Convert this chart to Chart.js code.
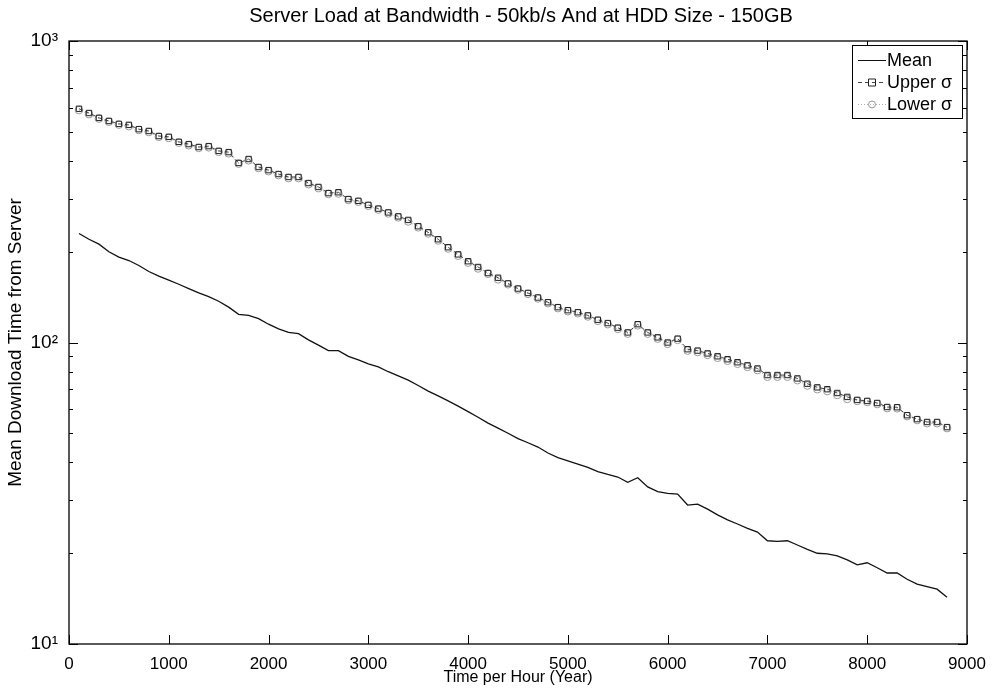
<!DOCTYPE html>
<html>
<head>
<meta charset="utf-8">
<script src="https://cdn.jsdelivr.net/npm/chart.js@4.4.0/dist/chart.umd.min.js"></script>
<style>
  html, body { margin: 0; padding: 0; background: #fff; }
  #wrap { width: 994px; height: 688px; }
</style>
</head>
<body>
<div id="wrap"><canvas id="c" width="994" height="688"></canvas></div>
<script>
// hours (x), one sample every 100
const hours = [100,200,300,400,500,600,700,800,900,1000,1100,1200,1300,1400,1500,1600,1700,1800,1900,2000,
  2100,2200,2300,2400,2500,2600,2700,2800,2900,3000,3100,3200,3300,3400,3500,3600,3700,3800,3900,4000,
  4100,4200,4300,4400,4500,4600,4700,4800,4900,5000,5100,5200,5300,5400,5500,5600,5700,5800,5900,6000,
  6100,6200,6300,6400,6500,6600,6700,6800,6900,7000,7100,7200,7300,7400,7500,7600,7700,7800,7900,8000,
  8100,8200,8300,8400,8500,8600,8700,8800];

const meanTime = [230,220,212,200,192,187,180,172,166,161,156,151,146,142,137,131,124,123,120,115,
  111,108,107,102,98,94,94,90,87.5,85,83,80,77.5,75,72,69,66.5,64,61.5,59,
  56.5,54,52,50,48,46.5,45,43,41.5,40.5,39.5,38.5,37.3,36.5,35.8,34.4,35.6,33.2,32,31.6,
  31.4,28.9,29.1,28,26.8,25.8,25,24.2,23.5,22,21.9,22,21.3,20.6,20,19.9,19.6,19,18.3,18.6,
  17.9,17.2,17.2,16.4,15.8,15.5,15.2,14.3];

const upperSigma = [596,577,556,543,531,527,510,503,484,481,463,455,445,448,432,428,394,406,382,373,
  362,354,354,338,328,313,315,299,295,286,278,270,262,255,243,232,220,207,196,186,
  178,170,164,157,151,146,141,136,131,128,126,123,119,116,112,108,115,108,104,100,
  103,95,94,92,90,88,86,84,82,78,78,78,76,73,71,70,68,66,64.5,64,
  63,61.1,61,57.4,55.7,54.5,54.5,52.4];

const lowerSigma = [590,572,553,540,528,522,507,499,481,477,460,451,442,444,429,424,392,402,379,370,
  359,351,351,335,325,311,312,297,293,284,276,268,260,252,241,230,218,205,194,184,
  176,169,162,156,150,145,140,135,130,127,125,122,118,115,111,107,114,107,103,99,
  102,94,93,91,89,87,85,83,81,77,77,77,75,72,70,69,67,65,64,63.5,
  62.5,60.6,60.5,57,55.3,54,54,52];

const seriesNames = ["Mean", "Upper \u03c3", "Lower \u03c3"];
const xTicks = [0,1000,2000,3000,4000,5000,6000,7000,8000,9000];
const yDecades = { 10: "10\u00b9", 100: "10\u00b2", 1000: "10\u00b3" };

const FONT = "'Liberation Sans', Arial, sans-serif";

const toPoints = (ys) => hours.map((h, i) => ({ x: h, y: ys[i] }));

// box, inward ticks, title and legend drawn like the MATLAB figure
const matlabFrame = {
  id: "matlabFrame",
  afterDatasetsDraw(chart) {
    const { ctx, chartArea: a, scales } = chart;
    const xs = scales.x, ys = scales.y;
    ctx.save();
    ctx.strokeStyle = "#000";
    ctx.lineWidth = 1.3;
    ctx.strokeRect(a.left, a.top, a.right - a.left, a.bottom - a.top);

    ctx.lineWidth = 1;
    ctx.beginPath();
    xTicks.forEach((v) => {
      const px = Math.round(xs.getPixelForValue(v)) + 0.5;
      ctx.moveTo(px, a.bottom); ctx.lineTo(px, a.bottom - 9);
      ctx.moveTo(px, a.top); ctx.lineTo(px, a.top + 9);
    });
    [10, 100, 1000].forEach((d) => {
      for (let m = 1; m <= 9; m++) {
        const v = d * m;
        if (v > 1000) break;
        const len = m === 1 ? 9 : 4;
        const py = Math.round(ys.getPixelForValue(v)) + 0.5;
        ctx.moveTo(a.left, py); ctx.lineTo(a.left + len, py);
        ctx.moveTo(a.right, py); ctx.lineTo(a.right - len, py);
      }
    });
    ctx.stroke();

    // title
    ctx.fillStyle = "#000";
    ctx.font = "20px " + FONT;
    ctx.textAlign = "center";
    ctx.textBaseline = "middle";
    ctx.fillText("Server Load at Bandwidth - 50kb/s And at HDD Size - 150GB", 521, 16);

    // legend
    const lx = 852, ly = 45, lw = 110, lh = 73;
    ctx.fillStyle = "#fff";
    ctx.fillRect(lx, ly, lw, lh);
    ctx.strokeStyle = "#000";
    ctx.strokeRect(lx + 0.5, ly + 0.5, lw, lh);
    const rows = [60, 82, 104];
    ctx.textAlign = "left";
    ctx.font = "18px " + FONT;
    rows.forEach((ry, i) => {
      const ds = chart.data.datasets[i];
      ctx.save();
      ctx.strokeStyle = ds.borderColor;
      ctx.lineWidth = 1;
      ctx.setLineDash(ds.borderDash || []);
      ctx.beginPath();
      ctx.moveTo(lx + 6, ry + 0.5); ctx.lineTo(lx + 34, ry + 0.5);
      ctx.stroke();
      ctx.setLineDash([]);
      if (ds.pointRadius > 0) {
        ctx.strokeStyle = ds.pointBorderColor;
        ctx.beginPath();
        if (ds.pointStyle === "rect") ctx.rect(lx + 16.5, ry - 3, 7, 7);
        else ctx.arc(lx + 20, ry + 0.5, 3.5, 0, Math.PI * 2);
        ctx.stroke();
      }
      ctx.restore();
      ctx.fillStyle = "#000";
      ctx.fillText(seriesNames[i], lx + 35, ry + 1);
    });
    ctx.restore();
  }
};

new Chart(document.getElementById("c"), {
  type: "line",
  data: {
    datasets: [
      {
        label: seriesNames[0],
        data: toPoints(meanTime),
        borderColor: "#111",
        borderWidth: 1.3,
        pointRadius: 0,
        order: 1
      },
      {
        label: seriesNames[1],
        data: toPoints(upperSigma),
        borderColor: "#444",
        borderWidth: 1,
        borderDash: [4, 3],
        pointStyle: "rect",
        pointRadius: 3.8,
        pointBorderWidth: 1,
        pointBorderColor: "#222",
        pointBackgroundColor: "rgba(0,0,0,0)",
        order: 2
      },
      {
        label: seriesNames[2],
        data: toPoints(lowerSigma),
        borderColor: "#aaa",
        borderWidth: 1,
        borderDash: [1, 2],
        pointStyle: "circle",
        pointRadius: 3.8,
        pointBorderWidth: 1,
        pointBorderColor: "#999",
        pointBackgroundColor: "rgba(0,0,0,0)",
        order: 3
      }
    ]
  },
  options: {
    responsive: false,
    animation: false,
    layout: { padding: { top: 41, right: 27, left: 0, bottom: 0 } },
    plugins: { legend: { display: false }, title: { display: false }, tooltip: { enabled: false } },
    scales: {
      x: {
        type: "linear",
        min: 0,
        max: 9000,
        afterBuildTicks: (s) => { s.ticks = xTicks.map((v) => ({ value: v })); },
        ticks: { color: "#000", font: { family: FONT, size: 17 }, padding: 2, maxRotation: 0, callback: (v) => String(v) },
        grid: { display: false },
        border: { display: false },
        title: { display: true, text: "Time per Hour (Year)", color: "#000", font: { family: FONT, size: 16 }, padding: { top: 0, bottom: 1 } },
        afterFit: (s) => { s.height = 44; }
      },
      y: {
        type: "logarithmic",
        min: 10,
        max: 1000,
        afterBuildTicks: (s) => { s.ticks = [10, 100, 1000].map((v) => ({ value: v })); },
        ticks: {
          color: "#000",
          font: { family: FONT, size: 19 },
          padding: 3,
          callback: (v) => yDecades[v] || ""
        },
        grid: { display: false },
        border: { display: false },
        title: { display: true, text: "Mean Download Time from Server", color: "#000", font: { family: FONT, size: 19 }, padding: { top: 4, bottom: 0 } },
        afterFit: (s) => { s.width = 69; }
      }
    }
  },
  plugins: [matlabFrame]
});
</script>
</body>
</html>
